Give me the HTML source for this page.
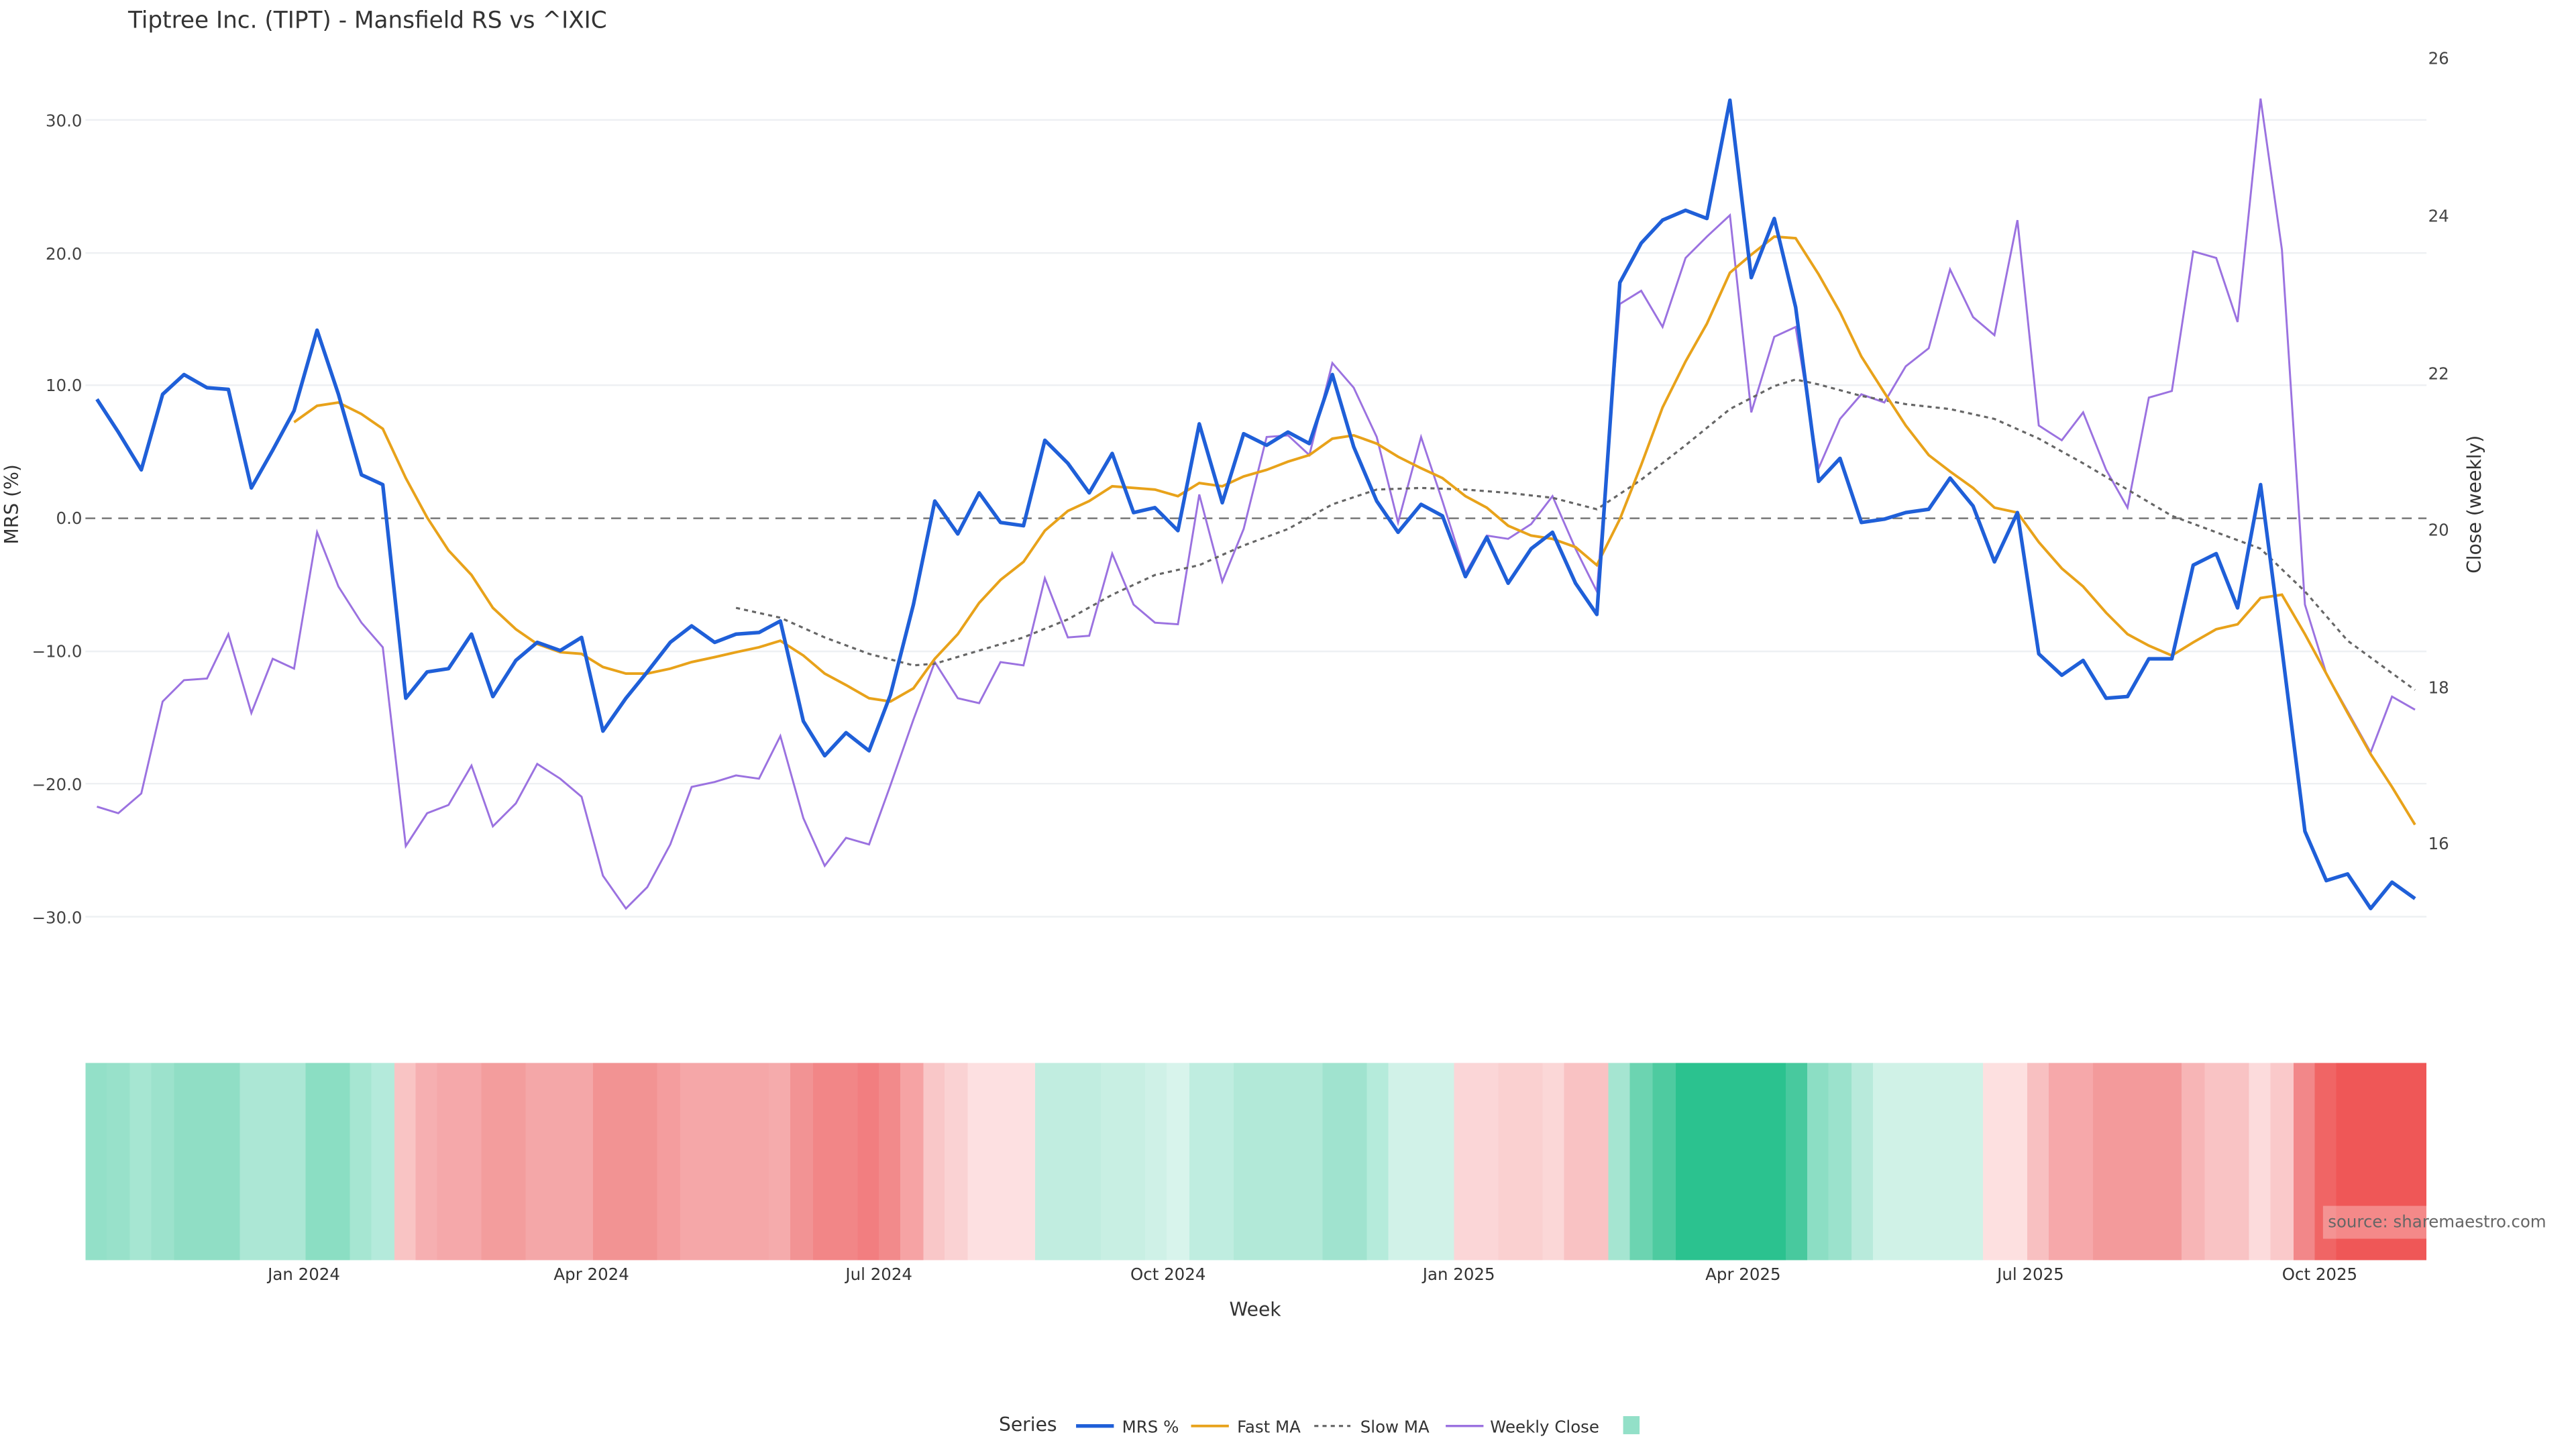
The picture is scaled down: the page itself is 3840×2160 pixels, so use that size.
<!DOCTYPE html>
<html><head><meta charset="utf-8"><style>
html,body{margin:0;padding:0;background:#fff}
svg{display:block}
text{font-family:"DejaVu Sans","Liberation Sans",sans-serif}
</style></head><body>
<svg width="3840" height="2160" viewBox="0 0 1568 882" preserveAspectRatio="none" xmlns="http://www.w3.org/2000/svg">
<rect width="1568" height="882" fill="#fff"/>
<text x="78" y="17" font-size="14" fill="#333">Tiptree Inc. (TIPT) - Mansfield RS vs ^IXIC</text>
<g stroke="#eef0f3" stroke-width="1">
<line x1="52" x2="1477" y1="73" y2="73"/><line x1="52" x2="1477" y1="154" y2="154"/>
<line x1="52" x2="1477" y1="234.5" y2="234.5"/><line x1="52" x2="1477" y1="396.5" y2="396.5"/>
<line x1="52" x2="1477" y1="477" y2="477"/><line x1="52" x2="1477" y1="558" y2="558"/>
</g>
<line x1="52" x2="1477" y1="315.5" y2="315.5" stroke="#777" stroke-width="1" stroke-dasharray="6,4"/>
<g font-size="10" fill="#444" text-anchor="end">
<text x="50" y="77">30.0</text><text x="50" y="158">20.0</text><text x="50" y="238">10.0</text>
<text x="50" y="319">0.0</text><text x="50" y="400">−10.0</text><text x="50" y="481">−20.0</text><text x="50" y="562">−30.0</text>
</g>
<g font-size="10" fill="#444">
<text x="1478" y="39">26</text><text x="1478" y="135">24</text><text x="1478" y="231">22</text>
<text x="1478" y="326">20</text><text x="1478" y="422">18</text><text x="1478" y="517">16</text>
</g>
<text transform="translate(11,307) rotate(-90)" font-size="11.5" fill="#333" text-anchor="middle">MRS (%)</text>
<text transform="translate(1510,307) rotate(-90)" font-size="11.5" fill="#333" text-anchor="middle">Close (weekly)</text>

<polyline fill="none" stroke="#9b72e0" stroke-width="1.2" points="59,491 72,495 86,483 99,427 112,414 126,413 139,386 153,434 166,401 179,407 193,324 206,357 220,379 233,394 247,515 260,495 273,490 287,466 300,503 314,489 327,465 341,474 354,485 367,533 381,553 394,540 408,514 421,479 435,476 448,472 462,474 475,448 489,498 502,527 515,510 529,514 542,478 556,438 569,403 583,425 596,428 609,403 623,405 636,352 650,388 663,387 677,337 690,368 703,379 717,380 730,301 744,354 757,322 771,266 784,265 797,277 811,221 824,236 838,266 851,318 865,266 878,305 892,349 905,326 918,328 932,319 945,302 959,334 972,360 986,185 999,177 1012,199 1026,157 1039,144 1053,131 1066,251 1080,205 1093,199 1107,285 1120,255 1133,240 1147,245 1160,223 1174,212 1187,164 1201,193 1214,204 1228,134 1241,259 1255,268 1268,251 1282,286 1295,309 1308,242 1322,238 1335,153 1349,157 1362,196 1376,60 1389,152 1403,368 1416,410 1429,433 1443,458 1456,424 1470,432"/>
<polyline fill="none" stroke="#666" stroke-width="1.3" stroke-dasharray="2.5,2.5" points="448,370 475,376 502,388 529,398 556,405 569,404 596,396 623,388 650,377 677,362 703,350 730,344 757,332 784,322 811,307 838,298 865,297 892,298 918,300 945,303 972,310 999,292 1026,271 1053,249 1080,235 1093,231 1107,234 1133,241 1160,246 1187,249 1214,255 1241,267 1268,282 1295,298 1322,314 1349,324 1376,334 1403,360 1429,390 1470,420"/>
<polyline fill="none" stroke="#e8a21a" stroke-width="1.6" points="179,257 193,247 206,245 220,252 233,261 247,291 260,315 273,335 287,350 300,370 314,383 327,392 341,397 354,398 367,406 381,410 394,410 408,407 421,403 435,400 448,397 462,394 475,390 489,399 502,410 515,417 529,425 542,427 556,419 569,401 583,386 596,367 609,353 623,342 636,323 650,311 663,305 677,296 690,297 703,298 717,302 730,294 744,296 757,290 771,286 784,281 797,277 811,267 824,265 838,270 851,278 865,285 878,291 892,302 905,309 918,320 932,326 945,328 959,333 972,344 986,316 999,283 1012,248 1026,220 1039,197 1053,166 1066,155 1080,144 1093,145 1107,167 1120,190 1133,217 1147,239 1160,259 1174,277 1187,287 1201,297 1214,309 1228,312 1241,330 1255,346 1268,357 1282,373 1295,386 1308,393 1322,399 1335,391 1349,383 1362,380 1376,364 1389,362 1403,386 1416,410 1429,434 1443,459 1456,479 1470,502"/>
<polyline fill="none" stroke="#1f5fd8" stroke-width="2.2" stroke-linejoin="round" points="59,243 72,263 86,286 99,240 112,228 126,236 139,237 153,297 166,274 179,250 193,201 206,240 220,289 233,295 247,425 260,409 273,407 287,386 300,424 314,402 327,391 341,396 354,388 367,445 381,425 394,409 408,391 421,381 435,391 448,386 462,385 475,378 489,439 502,460 515,446 529,457 542,423 556,368 569,305 583,325 596,300 609,318 623,320 636,268 650,282 663,300 677,276 690,312 703,309 717,323 730,258 744,306 757,264 771,271 784,263 797,270 811,228 824,272 838,305 851,324 865,307 878,314 892,351 905,327 918,355 932,334 945,324 959,355 972,374 986,172 999,148 1012,134 1026,128 1039,133 1053,61 1066,169 1080,133 1093,187 1107,293 1120,279 1133,318 1147,316 1160,312 1174,310 1187,291 1201,308 1214,342 1228,312 1241,398 1255,411 1268,402 1282,425 1295,424 1308,401 1322,401 1335,344 1349,337 1362,370 1376,295 1389,395 1403,506 1416,536 1429,532 1443,553 1456,537 1470,547"/>

<g shape-rendering="crispEdges">
<rect x="52" y="647" width="14" height="120" fill="#93e0c8"/>
<rect x="65" y="647" width="15" height="120" fill="#98e1ca"/>
<rect x="79" y="647" width="14" height="120" fill="#a6e6d2"/>
<rect x="92" y="647" width="15" height="120" fill="#9ce2cc"/>
<rect x="106" y="647" width="41" height="120" fill="#90dec5"/>
<rect x="146" y="647" width="41" height="120" fill="#ace7d5"/>
<rect x="186" y="647" width="28" height="120" fill="#8bdec3"/>
<rect x="213" y="647" width="14" height="120" fill="#a6e6d2"/>
<rect x="226" y="647" width="15" height="120" fill="#b4eadb"/>
<rect x="240" y="647" width="14" height="120" fill="#f9c4c4"/>
<rect x="253" y="647" width="14" height="120" fill="#f6afb1"/>
<rect x="266" y="647" width="28" height="120" fill="#f5a8aa"/>
<rect x="293" y="647" width="28" height="120" fill="#f39d9d"/>
<rect x="320" y="647" width="42" height="120" fill="#f4a7a8"/>
<rect x="361" y="647" width="40" height="120" fill="#f29393"/>
<rect x="400" y="647" width="15" height="120" fill="#f49d9e"/>
<rect x="414" y="647" width="55" height="120" fill="#f5a7a8"/>
<rect x="468" y="647" width="14" height="120" fill="#f5abac"/>
<rect x="481" y="647" width="15" height="120" fill="#f29394"/>
<rect x="495" y="647" width="28" height="120" fill="#f28687"/>
<rect x="522" y="647" width="14" height="120" fill="#f27e80"/>
<rect x="535" y="647" width="14" height="120" fill="#f28a8b"/>
<rect x="548" y="647" width="15" height="120" fill="#f6a3a4"/>
<rect x="562" y="647" width="14" height="120" fill="#f9c7c8"/>
<rect x="575" y="647" width="15" height="120" fill="#fad2d3"/>
<rect x="589" y="647" width="42" height="120" fill="#fde0e1"/>
<rect x="630" y="647" width="41" height="120" fill="#c1ede0"/>
<rect x="670" y="647" width="28" height="120" fill="#c8efe3"/>
<rect x="697" y="647" width="14" height="120" fill="#cff1e7"/>
<rect x="710" y="647" width="15" height="120" fill="#d8f4ec"/>
<rect x="724" y="647" width="28" height="120" fill="#bfede0"/>
<rect x="751" y="647" width="55" height="120" fill="#b2e9d8"/>
<rect x="805" y="647" width="28" height="120" fill="#a0e3cf"/>
<rect x="832" y="647" width="14" height="120" fill="#b5ebdb"/>
<rect x="845" y="647" width="41" height="120" fill="#d1f2e8"/>
<rect x="885" y="647" width="28" height="120" fill="#fbd6d7"/>
<rect x="912" y="647" width="28" height="120" fill="#fad0d0"/>
<rect x="939" y="647" width="14" height="120" fill="#fbd7d7"/>
<rect x="952" y="647" width="28" height="120" fill="#f9c2c3"/>
<rect x="979" y="647" width="14" height="120" fill="#a5e5d1"/>
<rect x="992" y="647" width="15" height="120" fill="#6cd4b1"/>
<rect x="1006" y="647" width="15" height="120" fill="#4ecba0"/>
<rect x="1020" y="647" width="68" height="120" fill="#2bc28f"/>
<rect x="1087" y="647" width="14" height="120" fill="#48c99e"/>
<rect x="1100" y="647" width="14" height="120" fill="#8cdec4"/>
<rect x="1113" y="647" width="15" height="120" fill="#9be2cc"/>
<rect x="1127" y="647" width="14" height="120" fill="#b8eadb"/>
<rect x="1140" y="647" width="68" height="120" fill="#d0f2e7"/>
<rect x="1207" y="647" width="28" height="120" fill="#fde0e0"/>
<rect x="1234" y="647" width="14" height="120" fill="#f8c0c1"/>
<rect x="1247" y="647" width="28" height="120" fill="#f6a8aa"/>
<rect x="1274" y="647" width="55" height="120" fill="#f39a9b"/>
<rect x="1328" y="647" width="15" height="120" fill="#f7b5b6"/>
<rect x="1342" y="647" width="28" height="120" fill="#f9c3c4"/>
<rect x="1369" y="647" width="14" height="120" fill="#fcdbdc"/>
<rect x="1382" y="647" width="15" height="120" fill="#fac9ca"/>
<rect x="1396" y="647" width="14" height="120" fill="#f28789"/>
<rect x="1409" y="647" width="14" height="120" fill="#f06565"/>
<rect x="1422" y="647" width="55" height="120" fill="#ef5757"/>
</g>
<rect x="1414" y="734" width="134" height="20" fill="#fff" fill-opacity="0.3"/>
<text x="1417" y="747" font-size="10" fill="#666">source: sharemaestro.com</text>

<g font-size="10" fill="#333" text-anchor="middle">
<text x="185" y="779">Jan 2024</text><text x="360" y="779">Apr 2024</text><text x="535" y="779">Jul 2024</text>
<text x="711" y="779">Oct 2024</text><text x="888" y="779">Jan 2025</text><text x="1061" y="779">Apr 2025</text>
<text x="1236" y="779">Jul 2025</text><text x="1412" y="779">Oct 2025</text>
</g>
<text x="764" y="801" font-size="11.5" fill="#333" text-anchor="middle">Week</text>

<text x="608" y="871" font-size="11.5" fill="#333">Series</text>
<line x1="655" x2="678" y1="868" y2="868" stroke="#1f5fd8" stroke-width="2.2"/>
<text x="683" y="872" font-size="10" fill="#333">MRS %</text>
<line x1="725" x2="748" y1="868" y2="868" stroke="#e8a21a" stroke-width="1.6"/>
<text x="753" y="872" font-size="10" fill="#333">Fast MA</text>
<line x1="800" x2="822" y1="868" y2="868" stroke="#666" stroke-width="1.3" stroke-dasharray="2.5,2.5"/>
<text x="828" y="872" font-size="10" fill="#333">Slow MA</text>
<line x1="880" x2="903" y1="868" y2="868" stroke="#9b72e0" stroke-width="1.4"/>
<text x="907" y="872" font-size="10" fill="#333">Weekly Close</text>
<rect x="988" y="862" width="10" height="11" fill="#93e0c8"/>
</svg>
</body></html>
